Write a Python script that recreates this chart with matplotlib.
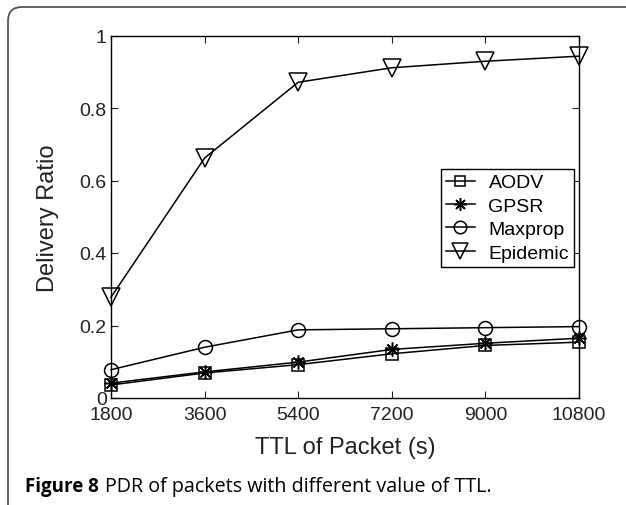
import numpy as np
import matplotlib
matplotlib.use("Agg")
import matplotlib.pyplot as plt
from matplotlib.path import Path
from matplotlib.patches import PathPatch

# ============================================================
TTL = [1800, 3600, 5400, 7200, 9000, 10800]

AODV = [0.036, 0.069, 0.092, 0.122, 0.145, 0.154]
GPSR = [0.041, 0.072, 0.099, 0.134, 0.151, 0.165]
MAXPROP = [0.078, 0.140, 0.188, 0.191, 0.194, 0.197]
EPIDEMIC = [0.278, 0.662, 0.871, 0.911, 0.929, 0.943]

# имя, данные, маркер, размер маркера
SERIES = [
    ("AODV", AODV, "s", 8),
    ("GPSR", GPSR, (8, 2, 0), 10),
    ("Maxprop", MAXPROP, "o", 10),
    ("Epidemic", EPIDEMIC, "v", 13),
]

YTICKS = [0, 0.2, 0.4, 0.6, 0.8, 1]
YTICKLABELS = ["0", "0.2", "0.4", "0.6", "0.8", "1"]

CAPTION_BOLD = "Figure 8"
CAPTION_TEXT = "PDR of packets with different value of TTL."

# ============================================================
plt.rcParams["font.family"] = ["Liberation Sans", "DejaVu Sans"]

W, H = 626, 506
fig = plt.figure(figsize=(W / 100, H / 100), dpi=100)

# рамка вокруг рисунка (верх и левый край со скруглённым углом)
r = 14
verts = [(8 / W, 0), (8 / W, 1 - (8 + r) / H), (8 / W, 1 - 8 / H),
         ((8 + r) / W, 1 - 8 / H), (1, 1 - 8 / H)]
codes = [Path.MOVETO, Path.LINETO, Path.CURVE3, Path.CURVE3, Path.LINETO]
fig.patches.append(PathPatch(Path(verts, codes), transform=fig.transFigure,
                             fill=False, edgecolor="#555555", lw=1.3))

ax = fig.add_axes([111 / W, 1 - 399 / H, 468 / W, 362.5 / H])
for name, vals, m, ms in SERIES:
    ax.plot(TTL, vals, color="black", lw=1.1, marker=m, ms=ms,
            mfc="none", mec="black", mew=1.1, label=name, clip_on=False,
            zorder=3)

ax.set_xlim(1800, 10800)
ax.set_ylim(0, 1)
ax.set_xticks(TTL)
ax.set_yticks(YTICKS)
ax.set_yticklabels(YTICKLABELS)
ax.tick_params(direction="in", top=True, right=True, length=5,
               labelsize=14, colors="#222222", pad=3)
ax.tick_params(axis="x", pad=6)
ax.set_xlabel("TTL of Packet (s)", fontsize=17, color="#222222", labelpad=9)
ax.set_ylabel("Delivery Ratio", fontsize=17, color="#222222", labelpad=15)
for s in ax.spines.values():
    s.set_linewidth(1.0)
    s.set_zorder(2)

leg = ax.legend(loc="upper right", bbox_to_anchor=(0.989, 0.632),
                fontsize=14, frameon=True, fancybox=False, edgecolor="black",
                framealpha=1, borderpad=0.25, handlelength=1.5,
                labelspacing=0.3, handletextpad=0.7, borderaxespad=0,
                markerscale=0.9)
leg.get_frame().set_linewidth(1.0)
leg.set_zorder(5)

fig.canvas.draw()
t1 = fig.text(25 / W, 1 - 492 / H, CAPTION_BOLD, fontsize=13.5,
              fontweight="bold", family="Open Sans", va="baseline")
bb = t1.get_window_extent(fig.canvas.get_renderer())
fig.text((bb.x1 + 6) / W, 1 - 492 / H, CAPTION_TEXT, fontsize=14.2,
         family="Open Sans", va="baseline")

fig.savefig("out.png", dpi=100)
